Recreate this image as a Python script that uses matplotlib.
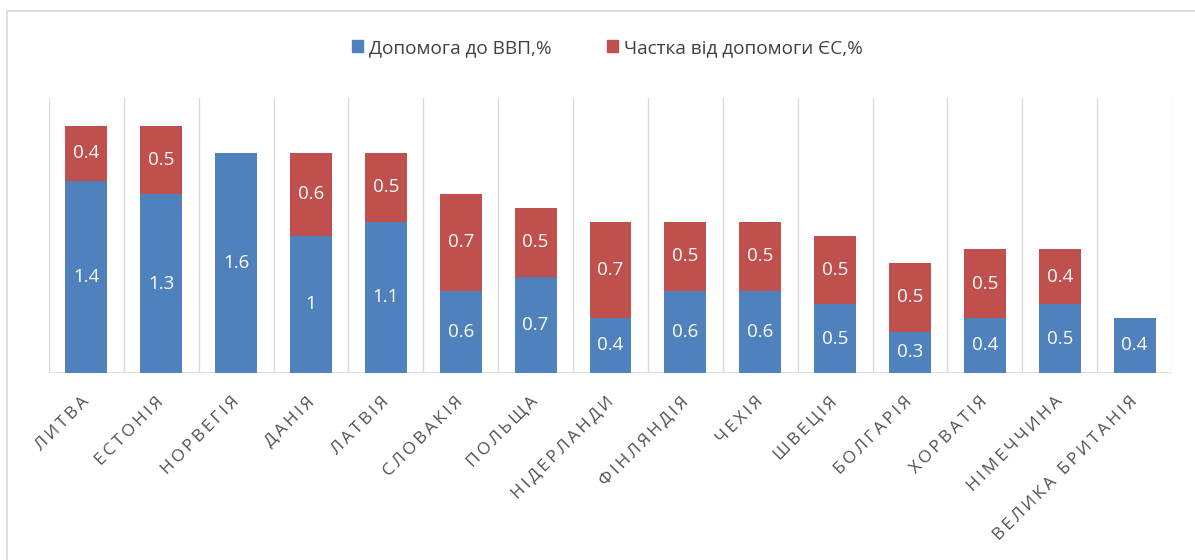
import matplotlib
matplotlib.use("Agg")
import matplotlib.pyplot as plt
from matplotlib.lines import Line2D
import numpy as np

plt.rcParams['font.family'] = ['Open Sans', 'DejaVu Sans']

countries = ["ЛИТВА", "ЕСТОНІЯ", "НОРВЕГІЯ", "ДАНІЯ", "ЛАТВІЯ", "СЛОВАКІЯ", "ПОЛЬЩА",
             "НІДЕРЛАНДИ", "ФІНЛЯНДІЯ", "ЧЕХІЯ", "ШВЕЦІЯ", "БОЛГАРІЯ", "ХОРВАТІЯ",
             "НІМЕЧЧИНА", "ВЕЛИКА БРИТАНІЯ"]
aid_gdp = [1.4, 1.3, 1.6, 1.0, 1.1, 0.6, 0.7, 0.4, 0.6, 0.6, 0.5, 0.3, 0.4, 0.5, 0.4]
eu_share = [0.4, 0.5, 0, 0.6, 0.5, 0.7, 0.5, 0.7, 0.5, 0.5, 0.5, 0.5, 0.5, 0.4, 0]
series_names = ["Допомога до ВВП,%", "Частка від допомоги ЄС,%"]

blue = "#4F81BD"
red = "#C0504D"

W, H = 1195, 560
fig = plt.figure(figsize=(W / 100, H / 100), dpi=100)
ax = fig.add_axes([49 / W, (H - 373) / H, (1172 - 49) / W, (373 - 98) / H])

x = np.arange(len(countries))
bw = 0.56
ax.bar(x, aid_gdp, bw, color=blue, label=series_names[0], zorder=3)
ax.bar(x, eu_share, bw, bottom=aid_gdp, color=red, label=series_names[1], zorder=3)

for i in range(len(countries)):
    if aid_gdp[i] > 0:
        ax.text(x[i], aid_gdp[i] / 2, f"{aid_gdp[i]:g}", ha='center', va='center',
                color='white', fontsize=13.5, zorder=4)
    if eu_share[i] > 0:
        ax.text(x[i], aid_gdp[i] + eu_share[i] / 2, f"{eu_share[i]:g}", ha='center',
                va='center', color='white', fontsize=13.5, zorder=4)

ax.set_xlim(-0.5, len(countries) - 0.5)
ax.set_ylim(0, 2)
for b in np.arange(-0.5, len(countries), 1.0):
    ax.axvline(b, color='#d9d9d9', lw=1, zorder=1)
ax.axhline(0, color='#d9d9d9', lw=1.2, zorder=2)
for s in ax.spines.values():
    s.set_visible(False)
ax.set_yticks([])
ax.set_xticks(x - 0.07)
spaced = ["\u2009".join(list(c)) for c in countries]
ax.set_xticklabels(spaced, rotation=45, ha='right', va='top', rotation_mode='anchor',
                   fontsize=12.5, color='#505050')
ax.tick_params(axis='x', length=0, pad=15)

handles = [plt.Rectangle((0, 0), 1, 1, color=blue), plt.Rectangle((0, 0), 1, 1, color=red)]
fig.legend(handles, series_names, loc='center', bbox_to_anchor=(0.5 + 10 / W, 1 - 48 / H),
           ncol=2, frameon=False, fontsize=13.7, handlelength=0.6, handleheight=0.6,
           handletextpad=0.3, columnspacing=2.9, labelcolor='#404040')

# outer chart border
fig.add_artist(Line2D([7 / W, 1.0], [1 - 11 / H, 1 - 11 / H], color='#d9d9d9', lw=1.2,
                      transform=fig.transFigure))
fig.add_artist(Line2D([7 / W, 7 / W], [0, 1 - 11 / H], color='#d9d9d9', lw=1.2,
                      transform=fig.transFigure))

fig.savefig("out.png", dpi=100)
